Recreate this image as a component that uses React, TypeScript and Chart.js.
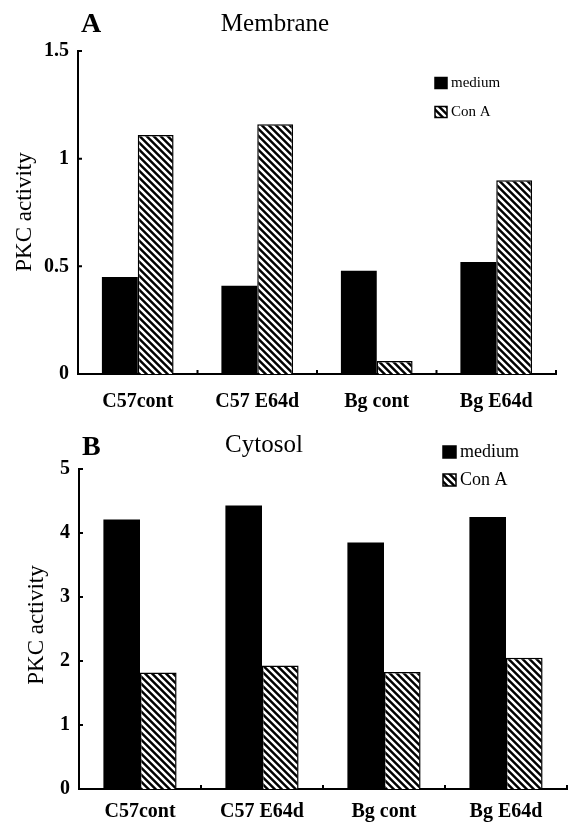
import React, { useEffect, useRef } from 'react';
import { Chart, registerables } from 'chart.js';

Chart.register(...registerables);

const categories = ['C57cont', 'C57 E64d', 'Bg cont', 'Bg E64d'];
const seriesNames = ['medium', 'Con A'];
const membraneMedium = [0.45, 0.41, 0.48, 0.52];
const membraneConA = [1.11, 1.16, 0.06, 0.9];
const cytosolMedium = [4.21, 4.43, 3.85, 4.25];
const cytosolConA = [1.82, 1.93, 1.83, 2.05];
const membraneTicks = [0, 0.5, 1, 1.5];
const cytosolTicks = [0, 1, 2, 3, 4, 5];

const FONT = '"Liberation Serif", "Times New Roman", serif';

function makeHatch(): CanvasPattern | string {
  const s = 7;
  const c = document.createElement('canvas');
  c.width = s;
  c.height = s;
  const g = c.getContext('2d');
  if (!g) return '#000';
  g.fillStyle = '#000';
  g.fillRect(0, 0, s, s);
  g.strokeStyle = '#fff';
  g.lineWidth = 2.5;
  g.beginPath();
  for (let k = -1; k <= 1; k++) {
    g.moveTo(-2, -2 + k * s);
    g.lineTo(s + 2, s + 2 + k * s);
  }
  g.stroke();
  const p = g.createPattern(c, 'repeat');
  return p || '#000';
}

type PanelCfg = {
  h: number;
  medium: number[];
  conA: number[];
  ticks: number[];
  max: number;
  padTop: number;
  padRight: number;
  yW: number;
  xH: number;
  xPad: number;
  letter: string;
  letterX: number;
  letterY: number;
  title: string;
  titleX: number;
  titleY: number;
  yLabelX: number;
  yLabelY: number;
  legX: number;
  legY: number;
  legGap: number;
  legFont: number;
  boxW: number;
  boxH: number;
};

function Panel({ cfg }: { cfg: PanelCfg }) {
  const ref = useRef<HTMLCanvasElement>(null);
  useEffect(() => {
    if (!ref.current) return;
    const hatch = makeHatch();
    const decor = {
      id: 'decor',
      afterDraw(chart: any) {
        const ctx = chart.ctx as CanvasRenderingContext2D;
        const xs = chart.scales.x;
        const ys = chart.scales.y;
        ctx.save();
        ctx.fillStyle = '#000';
        ctx.strokeStyle = '#000';
        // inward tick marks
        ctx.lineWidth = 2;
        ctx.beginPath();
        ys.ticks.forEach((t: any) => {
          const y = ys.getPixelForValue(t.value);
          ctx.moveTo(xs.left, y);
          ctx.lineTo(xs.left + 4, y);
        });
        const n = chart.data.labels.length;
        const w = (xs.right - xs.left) / n;
        for (let i = 1; i <= n; i++) {
          const x = xs.left + i * w;
          ctx.moveTo(x, ys.bottom);
          ctx.lineTo(x, ys.bottom - 4);
        }
        ctx.stroke();
        // panel letter
        ctx.textBaseline = 'alphabetic';
        ctx.textAlign = 'left';
        ctx.font = `bold 28px ${FONT}`;
        ctx.fillText(cfg.letter, cfg.letterX, cfg.letterY);
        // title
        ctx.textAlign = 'center';
        ctx.font = `25px ${FONT}`;
        ctx.fillText(cfg.title, cfg.titleX, cfg.titleY);
        // y label
        ctx.save();
        ctx.translate(cfg.yLabelX, cfg.yLabelY);
        ctx.rotate(-Math.PI / 2);
        ctx.textBaseline = 'middle';
        ctx.font = `23px ${FONT}`;
        ctx.fillText('PKC activity', 0, 0);
        ctx.restore();
        // legend
        ctx.textAlign = 'left';
        ctx.textBaseline = 'middle';
        ctx.font = `${cfg.legFont}px ${FONT}`;
        chart.data.datasets.forEach((ds: any, i: number) => {
          const cy = cfg.legY + i * cfg.legGap;
          ctx.fillStyle = ds.backgroundColor;
          ctx.fillRect(cfg.legX, cy - cfg.boxH / 2, cfg.boxW, cfg.boxH);
          ctx.lineWidth = 1.5;
          ctx.strokeStyle = '#000';
          ctx.strokeRect(cfg.legX, cy - cfg.boxH / 2, cfg.boxW, cfg.boxH);
          ctx.fillStyle = '#000';
          ctx.fillText(ds.label, cfg.legX + cfg.boxW + 4, cy);
        });
        ctx.restore();
      },
    };
    const chart = new Chart(ref.current, {
      type: 'bar',
      data: {
        labels: categories,
        datasets: [
          {
            label: seriesNames[0],
            data: cfg.medium,
            backgroundColor: '#000',
            borderWidth: 0,
            categoryPercentage: 0.6,
            barPercentage: 1,
          },
          {
            label: seriesNames[1],
            data: cfg.conA,
            backgroundColor: hatch as any,
            borderColor: '#000',
            borderWidth: 1.5,
            categoryPercentage: 0.6,
            barPercentage: 1,
          },
        ],
      },
      options: {
        animation: false,
        responsive: false,
        layout: { padding: { top: cfg.padTop, right: cfg.padRight, left: 0, bottom: 0 } },
        plugins: {
          legend: { display: false },
          tooltip: { enabled: false },
          title: { display: false },
        },
        scales: {
          x: {
            grid: { display: false, drawTicks: false },
            border: { display: true, color: '#000', width: 2 },
            ticks: {
              color: '#000',
              font: { family: FONT, size: 20, weight: 'bold' },
              padding: cfg.xPad,
              maxRotation: 0,
              autoSkip: false,
            },
            afterFit: (s: any) => {
              s.height = cfg.xH;
            },
          },
          y: {
            min: 0,
            max: cfg.max,
            grid: { display: false, drawTicks: false },
            border: { display: true, color: '#000', width: 2 },
            ticks: {
              color: '#000',
              font: { family: FONT, size: 20, weight: 'bold' },
              padding: 9,
              callback: (v: any) => String(v),
            },
            afterBuildTicks: (s: any) => {
              s.ticks = cfg.ticks.map((v) => ({ value: v }));
            },
            afterFit: (s: any) => {
              s.width = cfg.yW;
            },
          },
        },
      } as any,
      plugins: [decor],
    });
    return () => chart.destroy();
  }, []);
  return <canvas ref={ref} width={570} height={cfg.h} style={{ display: 'block' }} />;
}

const panelA: PanelCfg = {
  h: 420,
  medium: membraneMedium,
  conA: membraneConA,
  ticks: membraneTicks,
  max: 1.5,
  padTop: 51,
  padRight: 14,
  yW: 78,
  xH: 46,
  xPad: 16,
  letter: 'A',
  letterX: 81,
  letterY: 32,
  title: 'Membrane',
  titleX: 275,
  titleY: 31,
  yLabelX: 25,
  yLabelY: 212,
  legX: 435,
  legY: 83,
  legGap: 29,
  legFont: 15,
  boxW: 12,
  boxH: 11,
};

const panelB: PanelCfg = {
  h: 402,
  medium: cytosolMedium,
  conA: cytosolConA,
  ticks: cytosolTicks,
  max: 5,
  padTop: 49,
  padRight: 3,
  yW: 79,
  xH: 33,
  xPad: 11,
  letter: 'B',
  letterX: 82,
  letterY: 35,
  title: 'Cytosol',
  titleX: 264,
  titleY: 32,
  yLabelX: 37,
  yLabelY: 205,
  legX: 443,
  legY: 32,
  legGap: 28,
  legFont: 18,
  boxW: 13,
  boxH: 12,
};

export default function App() {
  return (
    <div style={{ position: 'absolute', left: 0, top: 0, width: 570, height: 822, background: '#fff' }}>
      <Panel cfg={panelA} />
      <Panel cfg={panelB} />
    </div>
  );
}
